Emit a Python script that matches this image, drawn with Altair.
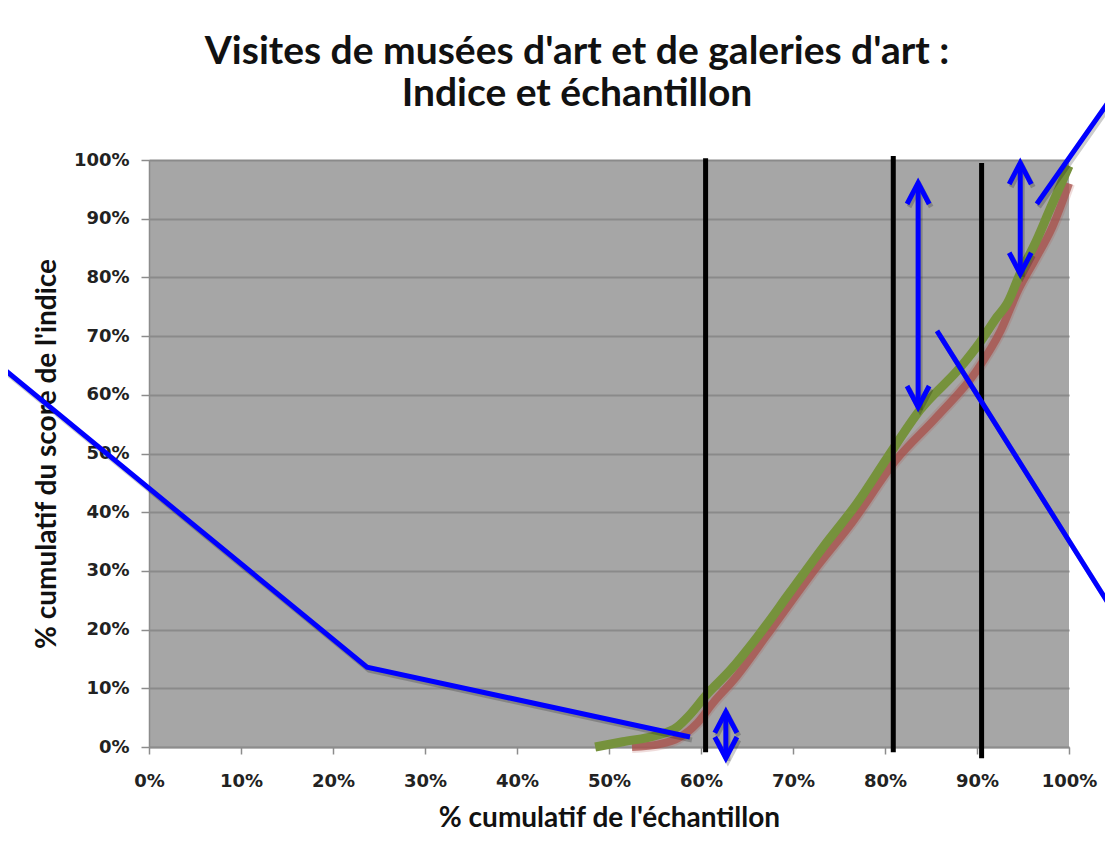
import altair as alt
import pandas as pd

# ---------------- data (percent values) ----------------
green_x = [48.5, 51.5, 55.2, 57.4, 58.8, 60.6, 63.2, 66.1, 69.7, 73.3, 77.0, 80.3,
           83.8, 88.2, 90.3, 92.2, 93.3, 94.7, 96.5, 97.9, 100.0]
green_y = [0.0, 0.9, 2.0, 3.4, 5.5, 8.9, 13.1, 18.7, 26.4, 34.1, 41.6, 49.4,
           57.4, 64.7, 68.9, 73.3, 75.6, 80.7, 86.4, 91.5, 99.0]

red_x = [52.5, 55.5, 57.5, 59.6, 61.3, 63.8, 67.0, 72.6, 76.4, 81.2, 85.6, 90.0,
         92.6, 94.5, 96.3, 98.2, 100.0]
red_y = [0.0, 0.5, 1.5, 4.1, 7.5, 11.9, 18.7, 30.7, 38.2, 48.9, 56.2, 64.2,
         71.0, 77.9, 83.0, 88.6, 96.0]

# black vertical markers
vline_x = [60.5, 80.9, 90.5]
vline_top = [100.3, 100.7, 99.5]
vline_bot = [-0.9, -0.9, -1.9]

# blue annotation polylines
ann1_x = [-16.5, 23.7, 58.8]
ann1_y = [65.3, 13.6, 1.7]
ann2_x = [96.5, 104.2, 104.9]
ann2_y = [92.5, 109.7, 110.1]
ann3_x = [85.65, 104.1, 104.9]
ann3_y = [70.9, 24.9, 25.4]

# blue double arrows: x, top, bottom
arrow_x = [83.6, 94.7, 62.7]
arrow_top = [96.1, 99.5, 6.0]
arrow_bot = [57.9, 80.6, -1.9]

x_ticks = [i / 10 for i in range(11)]
y_ticks = [i / 10 for i in range(11)]

TITLE = ["Visites de musées d'art et de galeries d'art :", "Indice et échantillon"]
X_TITLE = "% cumulatif de l'échantillon"
Y_TITLE = "% cumulatif du score de l'indice"

# ---------------- build tables ----------------
green = pd.DataFrame({"x": [v / 100 for v in green_x], "y": [v / 100 for v in green_y]})
green["o"] = range(len(green))
red = pd.DataFrame({"x": [v / 100 for v in red_x], "y": [v / 100 for v in red_y]})
red["o"] = range(len(red))

vlines = pd.DataFrame({"x": [v / 100 for v in vline_x],
                       "y": [v / 100 for v in vline_top],
                       "y2": [v / 100 for v in vline_bot]})

rows = []
for k, (xs_, ys_) in enumerate([(ann1_x, ann1_y), (ann2_x, ann2_y), (ann3_x, ann3_y)]):
    for j, (a, b) in enumerate(zip(xs_, ys_)):
        rows.append({"id": f"p{k}", "o": j, "x": a / 100, "y": b / 100})
HX, HY = 1.2, 3.6
for k, (ax, at, ab) in enumerate(zip(arrow_x, arrow_top, arrow_bot)):
    pts = {
        f"a{k}s": [(ax, ab), (ax, at)],
        f"a{k}t": [(ax - HX, at - HY), (ax, at), (ax + HX, at - HY)],
        f"a{k}b": [(ax - HX, ab + HY), (ax, ab), (ax + HX, ab + HY)],
    }
    for pid, pl in pts.items():
        for j, (a, b) in enumerate(pl):
            rows.append({"id": pid, "o": j, "x": a / 100, "y": b / 100})
blue = pd.DataFrame(rows)

xs = alt.Scale(domain=[0, 1], nice=False, zero=False)
ys = alt.Scale(domain=[0, 1], nice=False, zero=False)

x_axis = alt.Axis(values=x_ticks, format=".0%", grid=False, title=X_TITLE,
                  labelFlush=False, titleY=79, titleBaseline="alphabetic")
y_axis = alt.Axis(values=y_ticks, format=".0%", grid=True, title=Y_TITLE,
                  labelFlush=False, titleX=-94, titleBaseline="alphabetic")

base_x = alt.X("x:Q", scale=xs, axis=x_axis)
base_y = alt.Y("y:Q", scale=ys, axis=y_axis)

red_glow = alt.Chart(red).mark_line(color="#b0524a", strokeWidth=12, opacity=0.2,
                                    interpolate="monotone").encode(
    x=base_x, y=base_y, order="o:Q")
red_line = alt.Chart(red).mark_line(color="#a8504a", strokeWidth=8, opacity=0.75,
                                    interpolate="monotone").encode(
    x="x:Q", y="y:Q", order="o:Q")
green_line = alt.Chart(green).mark_line(color="#76923c", strokeWidth=9,
                                        interpolate="monotone").encode(
    x="x:Q", y="y:Q", order="o:Q")

black = alt.Chart(vlines).mark_rule(color="#000000", strokeWidth=5).encode(
    x="x:Q", y="y:Q", y2="y2:Q")

blue_shadow = alt.Chart(blue).mark_line(color="#000000", strokeWidth=5, opacity=0.2,
                                        xOffset=2, yOffset=3, strokeJoin="miter").encode(
    x="x:Q", y="y:Q", detail="id:N", order="o:Q")
blue_line = alt.Chart(blue).mark_line(color="#0000ff", strokeWidth=5,
                                      strokeJoin="miter").encode(
    x="x:Q", y="y:Q", detail="id:N", order="o:Q")

chart = alt.layer(red_glow, red_line, green_line, black, blue_shadow, blue_line).properties(
    width=920, height=587,
    autosize=alt.AutoSizeParams(type="none"),
    padding={"left": 141, "top": 152, "right": 36, "bottom": 86},
    background="#ffffff",
    title=alt.Title(TITLE, font="Lato", fontSize=39, fontWeight="bold",
                    color="#111111", anchor="middle", dx=-32, offset=-23, lineHeight=42),
).configure_view(fill="#a6a6a6", stroke=None).configure_axis(
    domainColor="#8c8c8c", domainWidth=1.5, tickColor="#8c8c8c", tickWidth=1.5,
    gridColor="#8a8a8a", gridWidth=2,
    labelFont="DejaVu Sans", labelFontWeight="bold", labelFontSize=18, labelColor="#222222",
    titleFont="Lato", titleFontWeight="bold", titleFontSize=28,
    titleColor="#111111",
).configure_axisX(tickSize=7, labelPadding=18).configure_axisY(
    tickSize=8, labelPadding=12)

chart.save("out.html", embed_options={"renderer": "svg", "actions": False})
